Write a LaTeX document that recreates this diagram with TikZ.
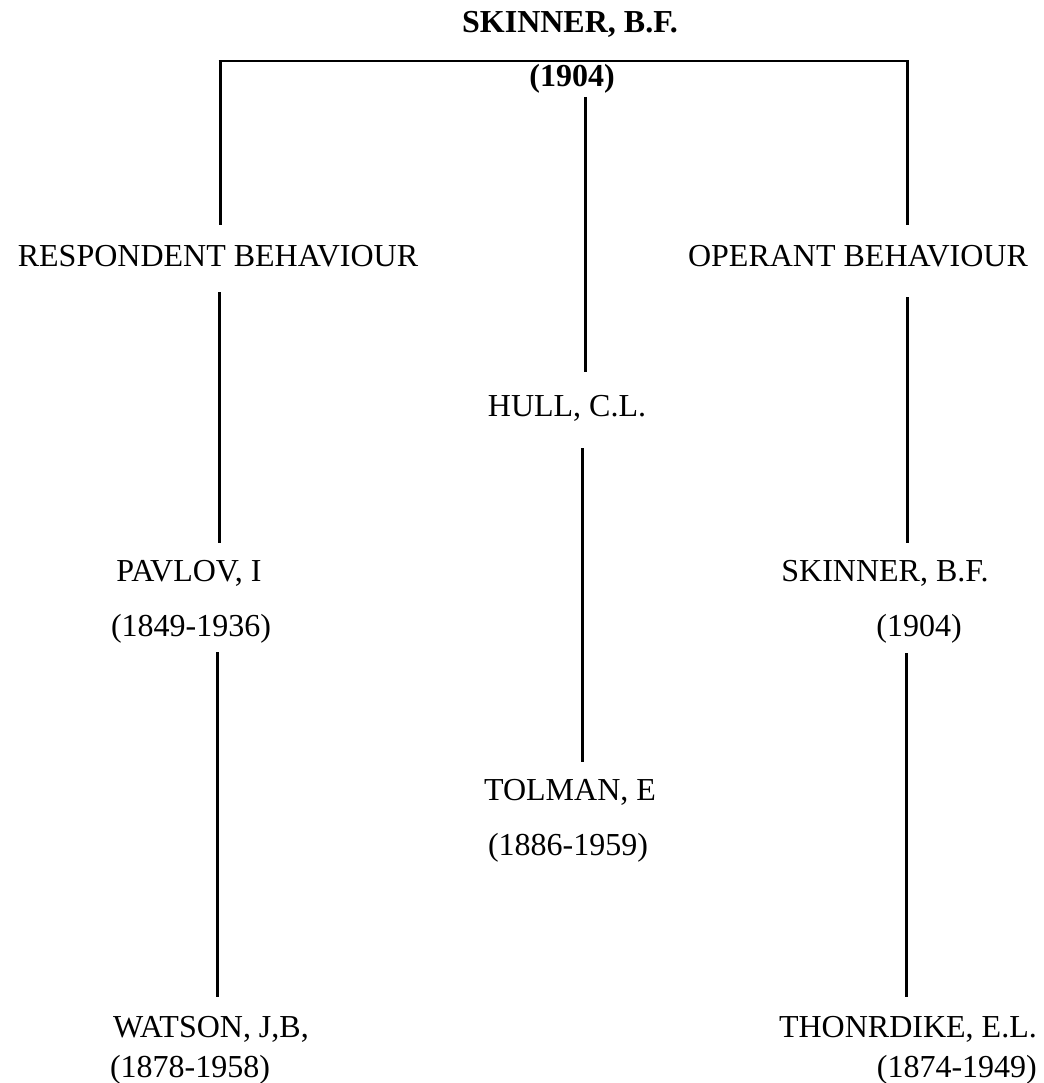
\documentclass[tikz,border=0pt]{standalone}
\usepackage{fontspec}
\setmainfont{Liberation Serif}
\begin{document}
\begin{tikzpicture}[x=1pt,y=-1pt,
  txt/.style={anchor=base,inner sep=0pt,font=\fontsize{32}{38}\selectfont},
  btxt/.style={txt,font=\fontsize{32}{38}\selectfont\bfseries},
  conn/.style={line width=3pt,line cap=butt},
  hconn/.style={line width=2.6pt}]
\useasboundingbox (0,0) rectangle (1043,1083);
% texts
\node[btxt] (top) at (570,33) {SKINNER, B.F.};
\node[btxt] (topyr) at (572,87) {(1904)};
\node[txt] (resp) at (218,266) {RESPONDENT BEHAVIOUR};
\node[txt] (oper) at (858,266) {OPERANT BEHAVIOUR};
\node[txt] (hull) at (567,416) {HULL, C.L.};
\node[txt] (pavlov) at (189,581) {PAVLOV, I};
\node[txt] (pavyr) at (191,636) {(1849-1936)};
\node[txt] (skin) at (885,581) {SKINNER, B.F.};
\node[txt] (skinyr) at (919,636) {(1904)};
\node[txt] (tolman) at (570,800) {TOLMAN, E};
\node[txt] (tolyr) at (568,855) {(1886-1959)};
\node[txt] (watson) at (211,1037) {WATSON, J,B,};
\node[txt] (watyr) at (190,1077) {(1878-1958)};
\node[txt,anchor=base east] (thor) at (1037,1037) {THONRDIKE, E.L.};
\node[txt,anchor=base east] (thoryr) at (1037,1077) {(1874-1949)};
% line ends
\coordinate (bl) at (220,225);
\coordinate (tl) at (220,61);
\coordinate (tr) at (907,61);
\coordinate (br) at (907,225);
\coordinate (c1a) at (585,97);
\coordinate (c1b) at (585,372);
\coordinate (c2a) at (582,448);
\coordinate (c2b) at (582,762);
\coordinate (l1a) at (219,292);
\coordinate (l1b) at (219,543);
\coordinate (l2a) at (217,652);
\coordinate (l2b) at (217,997);
\coordinate (r1a) at (907,297);
\coordinate (r1b) at (907,543);
\coordinate (r2a) at (906,653);
\coordinate (r2b) at (906,997);
% connectors
\draw[conn] (bl) -- (tl);
\draw[hconn] ([xshift=-1.5pt]tl) -- ([xshift=1.5pt]tr);
\draw[conn] (tr) -- (br);
\draw[conn] (c1a) -- (c1b);
\draw[conn] (c2a) -- (c2b);
\draw[conn] (l1a) -- (l1b);
\draw[conn] (l2a) -- (l2b);
\draw[conn] (r1a) -- (r1b);
\draw[conn] (r2a) -- (r2b);
\end{tikzpicture}
\end{document}
